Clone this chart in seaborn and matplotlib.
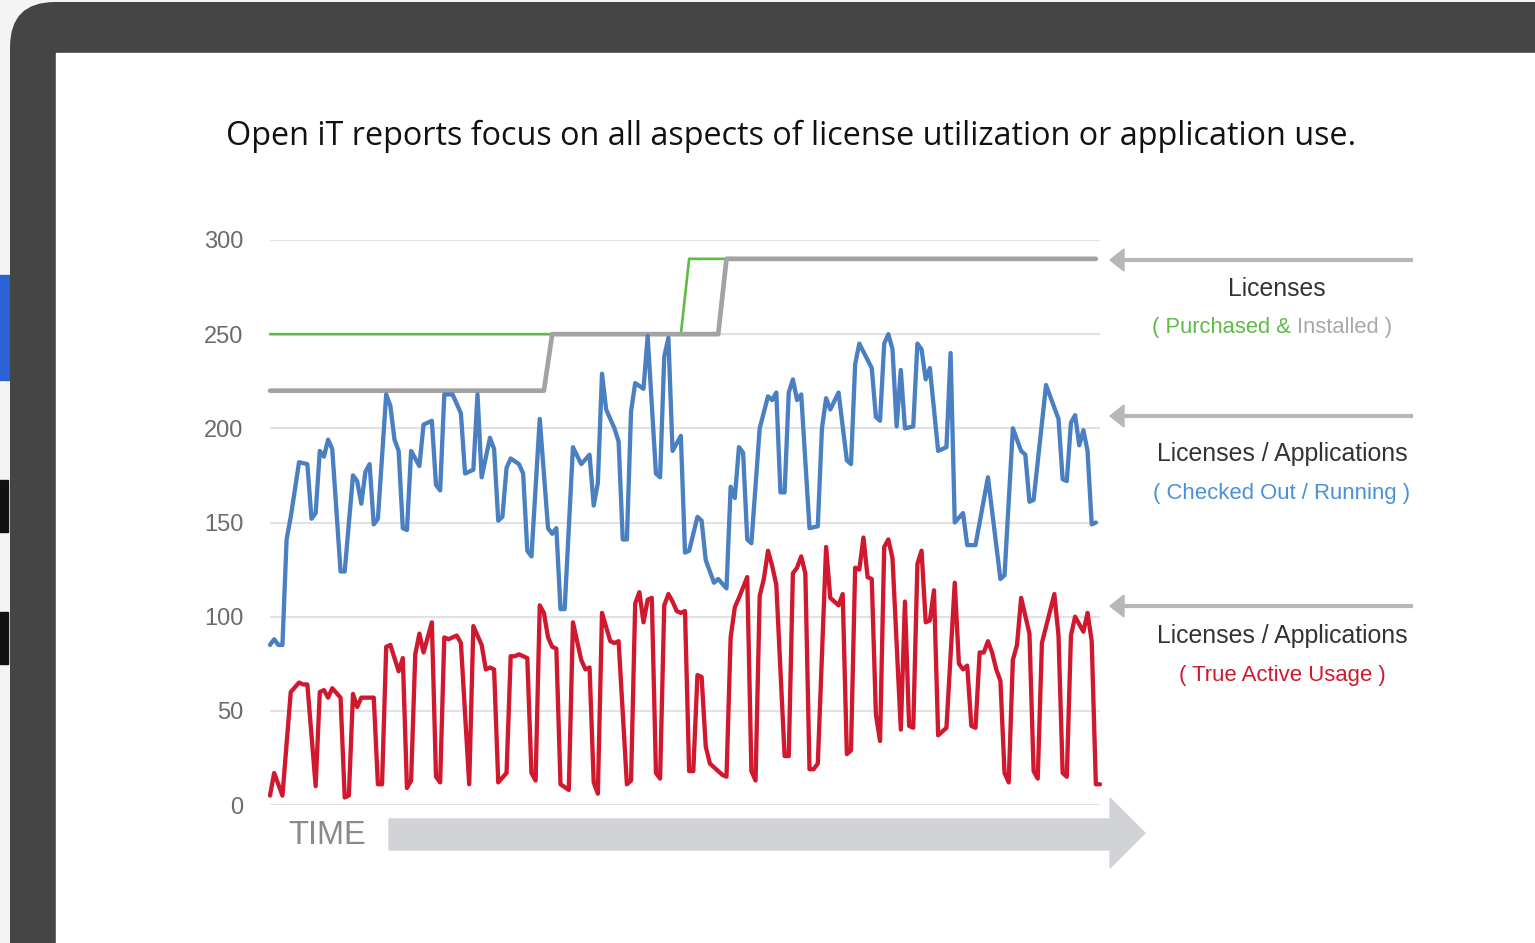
import matplotlib
matplotlib.use("Agg")
import numpy as np
import pandas as pd
import matplotlib.pyplot as plt
import seaborn as sns
from matplotlib.patches import Polygon, Rectangle, FancyBboxPatch

# -----------------------------------------------------------------------------
# Data (x = time step, y = licenses)
# -----------------------------------------------------------------------------
purchased_days = [0, 99, 101, 199]
purchased_vals = [250, 250, 290, 290]

installed_days = [0, 66, 68, 108, 110, 199]
installed_vals = [220, 220, 250, 250, 290, 290]

checked_days = [0, 1, 2, 3, 4, 5, 7, 9, 10, 11, 12, 13, 14, 15, 17, 18, 20, 21, 22, 23,
                24, 25, 26, 28, 29, 30, 31, 32, 33, 34, 36, 37, 39, 40, 41, 42, 44, 46, 47, 49,
                50, 51, 53, 54, 55, 56, 57, 58, 60, 61, 62, 63, 65, 67, 68, 69, 70, 71, 73, 75,
                77, 78, 79, 80, 81, 83, 84, 85, 86, 87, 88, 90, 91, 93, 94, 95, 96, 97, 99, 100,
                101, 103, 104, 105, 107, 108, 110, 111, 112, 113, 114, 115, 116, 118, 120, 121, 122, 123, 124, 125,
                126, 127, 128, 130, 132, 133, 134, 135, 137, 139, 140, 141, 142, 145, 146, 147, 148, 149, 150, 151,
                152, 153, 155, 156, 157, 158, 159, 161, 163, 164, 165, 167, 168, 170, 171, 173, 176, 177, 179, 181,
                182, 183, 184, 187, 190, 191, 192, 193, 194, 195, 196, 197, 198, 199]
checked_vals = [85, 88, 85, 85, 141, 153, 182, 181, 152, 155, 188, 185, 194, 189, 124, 124, 175, 172, 160, 177,
                181, 149, 152, 218, 212, 194, 188, 147, 146, 188, 180, 202, 204, 170, 167, 218, 218, 208, 176, 178,
                218, 174, 195, 189, 151, 153, 179, 184, 181, 176, 135, 132, 205, 147, 144, 147, 104, 104, 190, 181,
                186, 159, 171, 229, 210, 200, 193, 141, 141, 209, 224, 221, 249, 176, 174, 238, 248, 188, 196, 134,
                135, 153, 151, 130, 118, 120, 115, 169, 163, 190, 187, 141, 139, 200, 217, 215, 219, 166, 166, 219,
                226, 215, 218, 147, 148, 200, 216, 210, 219, 183, 181, 234, 245, 232, 206, 204, 245, 250, 242, 201,
                231, 200, 201, 245, 242, 226, 232, 188, 190, 240, 150, 155, 138, 138, 150, 174, 120, 122, 200, 188,
                186, 161, 162, 223, 205, 173, 172, 203, 207, 191, 199, 188, 149, 150]

active_days = [0, 1, 3, 5, 7, 8, 9, 11, 12, 13, 14, 15, 17, 18, 19, 20, 21, 22, 24, 25,
               26, 27, 28, 29, 31, 32, 33, 34, 35, 36, 37, 39, 40, 41, 42, 43, 45, 46, 48, 49,
               51, 52, 53, 54, 55, 57, 58, 59, 60, 62, 63, 64, 65, 66, 67, 68, 69, 70, 72, 73,
               75, 76, 77, 78, 79, 80, 82, 83, 84, 86, 87, 88, 89, 90, 91, 92, 93, 94, 95, 96,
               97, 98, 99, 100, 101, 102, 103, 104, 105, 106, 108, 109, 110, 111, 112, 113, 115, 116, 117, 118,
               119, 120, 121, 122, 124, 125, 126, 127, 128, 129, 130, 131, 132, 134, 135, 137, 138, 139, 140, 141,
               142, 143, 144, 145, 146, 147, 148, 149, 150, 152, 153, 154, 155, 156, 157, 158, 159, 160, 161, 162,
               163, 165, 166, 167, 168, 169, 170, 171, 172, 173, 174, 175, 176, 177, 178, 179, 180, 181, 183, 184,
               185, 186, 189, 190, 191, 192, 193, 194, 196, 197, 198, 199, 200]
active_vals = [5, 17, 5, 60, 65, 64, 64, 10, 60, 61, 57, 62, 57, 4, 5, 59, 52, 57, 57, 57,
               11, 11, 84, 85, 71, 78, 9, 13, 80, 91, 81, 97, 15, 12, 89, 88, 90, 86, 11, 95,
               85, 72, 73, 72, 12, 17, 79, 79, 80, 78, 17, 13, 106, 102, 89, 84, 83, 11, 8, 97,
               77, 72, 73, 12, 6, 102, 87, 86, 87, 11, 13, 107, 113, 97, 109, 110, 17, 14, 106, 112,
               108, 103, 102, 103, 18, 18, 69, 68, 31, 22, 18, 16, 15, 89, 105, 110, 121, 18, 13, 111,
               120, 135, 127, 117, 26, 26, 123, 126, 132, 123, 19, 19, 22, 137, 110, 106, 112, 27, 29, 126,
               125, 142, 121, 120, 48, 34, 137, 141, 131, 40, 108, 42, 41, 128, 135, 97, 98, 114, 37, 39,
               41, 118, 75, 72, 74, 42, 41, 81, 81, 87, 81, 72, 66, 17, 12, 77, 85, 110, 91, 18,
               14, 86, 112, 90, 17, 15, 90, 100, 92, 102, 87, 11, 11]

y_ticks = [0, 50, 100, 150, 200, 250, 300]

title_text = "Open iT reports focus on all aspects of license utilization or application use."

# colours
BLUE = "#4a7fc1"
RED = "#d0182f"
GREEN = "#5dbb46"
GREY = "#a3a3a3"
FRAME = "#454545"
ARROW = "#b6b7ba"
BIG_ARROW = "#d1d3d6"

# -----------------------------------------------------------------------------
# Figure and background (pixel coordinate layer)
# -----------------------------------------------------------------------------
sns.set_style("white")
plt.rcParams["font.family"] = ["Liberation Sans", "DejaVu Sans"]

W, H = 1535, 943
fig = plt.figure(figsize=(W / 100, H / 100), dpi=100)
bg = fig.add_axes([0, 0, 1, 1], zorder=0)
bg.set_xlim(0, W)
bg.set_ylim(H, 0)
bg.axis("off")

# screenshot frame
bg.add_patch(Rectangle((0, 0), W, H, color="#f4f4f4", zorder=0))
bg.add_patch(Rectangle((0, 275), 10, 105, color="#2a62d6", zorder=0.5))
bg.add_patch(Rectangle((0, 480), 8, 52, color="#111111", zorder=0.5))
bg.add_patch(Rectangle((0, 612), 8, 52, color="#111111", zorder=0.5))
bg.add_patch(FancyBboxPatch((10, 2), 1700, 1100, boxstyle="round,pad=0,rounding_size=45",
                            facecolor=FRAME, edgecolor="none", zorder=1))
bg.add_patch(Rectangle((56, 53), W, H, color="white", zorder=2))

bg.text(791, 136, title_text, ha="center", va="center", fontsize=23.3,
        family=["Open Sans", "DejaVu Sans"], color="#111111", zorder=3)

# TIME arrow
bg.add_patch(Polygon([(389, 819), (1110, 819), (1110, 798), (1145, 833),
                      (1110, 868), (1110, 850), (389, 850)],
                     closed=True, color=BIG_ARROW, zorder=3))
bg.text(327, 836, "TIME", ha="center", va="center", fontsize=23.5, color="#8a8a8a", zorder=3)

# callout arrows on the right
for yy in (260, 416, 606):
    bg.plot([1120, 1413], [yy, yy], color=ARROW, lw=3.0, solid_capstyle="butt", zorder=3)
    bg.add_patch(Polygon([(1110, yy), (1124, yy - 11), (1124, yy + 11)],
                         closed=True, color=ARROW, zorder=3))

bg.text(1277, 289, "Licenses", ha="center", va="center", fontsize=17.8, color="#333333", zorder=3)
bg.text(1291, 327, "( Purchased &", ha="right", va="center", fontsize=15.8, color=GREEN, zorder=3)
bg.text(1297, 327, "Installed )", ha="left", va="center", fontsize=15.8, color="#a8a8a8", zorder=3)

bg.text(1282, 454, "Licenses / Applications", ha="center", va="center", fontsize=17.9,
        color="#333333", zorder=3)
bg.text(1282, 493, "( Checked Out / Running )", ha="center", va="center", fontsize=15.9,
        color="#4a90d9", zorder=3)

bg.text(1282, 636, "Licenses / Applications", ha="center", va="center", fontsize=17.9,
        color="#333333", zorder=3)
bg.text(1282, 675, "( True Active Usage )", ha="center", va="center", fontsize=15.9,
        color=RED, zorder=3)

# -----------------------------------------------------------------------------
# Main chart
# -----------------------------------------------------------------------------
x0, x1, y_top, y_bot = 270, 1100, 240, 805
ax = fig.add_axes([x0 / W, 1 - y_bot / H, (x1 - x0) / W, (y_bot - y_top) / H], zorder=5)
ax.patch.set_alpha(0)

purchased = pd.DataFrame({"t": purchased_days, "v": purchased_vals})
installed = pd.DataFrame({"t": installed_days, "v": installed_vals})
checked = pd.DataFrame({"t": checked_days, "v": checked_vals})
active = pd.DataFrame({"t": active_days, "v": active_vals})

sns.lineplot(data=purchased, x="t", y="v", ax=ax, color=GREEN, linewidth=1.9, estimator=None, zorder=3)
sns.lineplot(data=installed, x="t", y="v", ax=ax, color=GREY, linewidth=3.4, estimator=None, zorder=4)
sns.lineplot(data=checked, x="t", y="v", ax=ax, color=BLUE, linewidth=3.1, estimator=None, zorder=5)
sns.lineplot(data=active, x="t", y="v", ax=ax, color=RED, linewidth=3.1, estimator=None, zorder=6)
for ln in ax.lines:
    ln.set_clip_on(False)
    ln.set_solid_joinstyle("round")

ax.set_xlim(0, 200)
ax.set_ylim(0, 300)
ax.set_yticks(y_ticks)
ax.set_yticklabels([str(t) for t in y_ticks])
ax.set_xticks([])
ax.set_xlabel("")
ax.set_ylabel("")
ax.grid(axis="y", color="#e2e2e2", linewidth=1.5)
ax.set_axisbelow(True)
ax.tick_params(axis="y", length=0, pad=19, labelsize=17, labelcolor="#6b6b6b")
for s in ax.spines.values():
    s.set_visible(False)

fig.savefig("out.png", dpi=100)
